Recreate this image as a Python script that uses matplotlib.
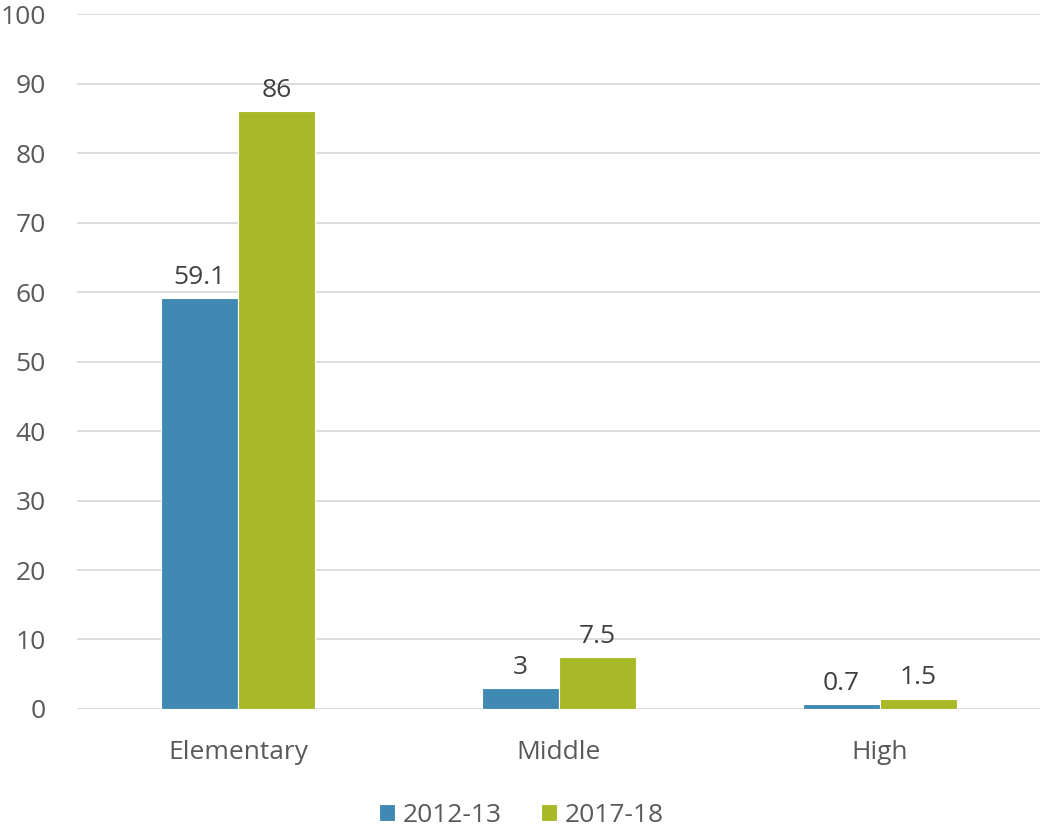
import numpy as np
import matplotlib.pyplot as plt

categories = ["Elementary", "Middle", "High"]
series_names = ["2012-13", "2017-18"]
values_2012 = [59.1, 3, 0.7]
values_2017 = [86, 7.5, 1.5]
value_labels_2012 = ["59.1", "3", "0.7"]
value_labels_2017 = ["86", "7.5", "1.5"]
y_ticks = [0, 10, 20, 30, 40, 50, 60, 70, 80, 90, 100]

colors = ["#3F89B3", "#A8B928"]
text_color = "#595959"
plt.rcParams["font.family"] = ["Open Sans", "DejaVu Sans"]

fig = plt.figure(figsize=(10.43, 8.27), dpi=100)
ax = fig.add_axes([0.0743, 0.1427, 0.9233, 0.8403])

x = np.arange(len(categories))
width = 0.24
bars1 = ax.bar(x - width / 2, values_2012, width, color=colors[0], label=series_names[0],
               edgecolor="white", linewidth=0.8, zorder=3)
bars2 = ax.bar(x + width / 2, values_2017, width, color=colors[1], label=series_names[1],
               edgecolor="white", linewidth=0.8, zorder=3)

for bars, labels in [(bars1, value_labels_2012), (bars2, value_labels_2017)]:
    for b, lab in zip(bars, labels):
        ax.annotate(lab, (b.get_x() + b.get_width() / 2, b.get_height()),
                    xytext=(0, 6), textcoords="offset points", ha="center", va="bottom",
                    fontsize=19, color="#404040")

ax.set_xlim(-0.5, 2.5)
ax.set_ylim(0, 100)
ax.set_yticks(y_ticks)
ax.set_xticks(x)
ax.set_xticklabels(categories)
ax.tick_params(axis="both", length=0, labelsize=19, labelcolor=text_color)
ax.tick_params(axis="x", pad=22)
ax.tick_params(axis="y", pad=23)
for lab in ax.get_yticklabels():
    lab.set_horizontalalignment("right")
ax.grid(axis="y", color="#D9D9D9", linewidth=1.3, zorder=0)
for s in ax.spines.values():
    s.set_visible(False)

fig.legend(loc="lower center", bbox_to_anchor=(0.5, -0.03), ncol=2, frameon=False,
           fontsize=19, labelcolor=text_color, handlelength=0.6, handleheight=0.6,
           handletextpad=0.3, columnspacing=1.5)

plt.savefig("out.png", dpi=100)
